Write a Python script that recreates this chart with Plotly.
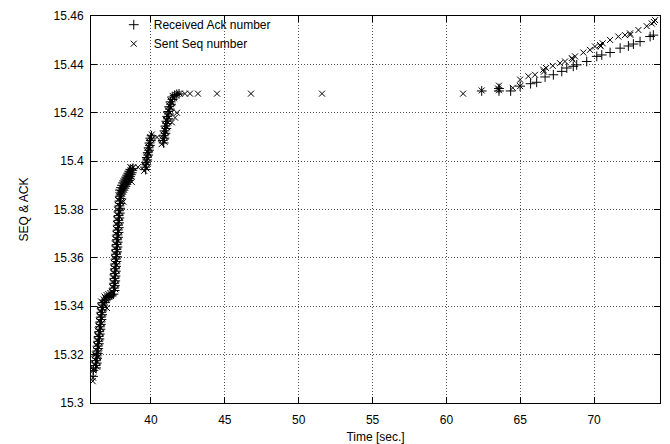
import plotly.graph_objects as go

# ---- Sent Seq number (x markers): time [s], sequence value ----
sent_t = [
    # slow-start burst, lower section
    36.06, 36.08, 36.10, 36.11, 36.35, 36.15, 36.38, 36.18, 36.42, 36.22, 36.45, 36.26, 36.49,
    36.29, 36.52, 36.33, 36.56, 36.36, 36.59, 36.40, 36.63, 36.44, 36.67, 36.47, 36.70, 36.51,
    36.74, 36.54, 36.77, 36.58, 36.81, 36.62, 36.41, 37.02,
    # short plateau
    36.80, 36.92, 37.05, 37.18, 37.30, 37.42, 36.86, 37.00, 37.12, 37.25, 37.38,
    # second steep section
    37.36, 37.59, 37.38, 37.61, 37.40, 37.63, 37.42, 37.65, 37.44, 37.67, 37.46, 37.69, 37.48,
    37.71, 37.50, 37.73, 37.52, 37.75, 37.54, 37.77, 37.56, 37.79, 37.58, 37.81, 37.60, 37.83,
    37.62, 37.85, 37.64, 37.87, 37.66, 37.89, 37.69, 37.92, 37.71, 37.94, 37.74, 37.97, 37.77,
    38.00, 37.80,
    # bend towards 39 s
    37.88, 37.94, 38.00, 38.07, 38.14, 38.21, 38.28, 38.35, 38.42, 38.49, 38.56, 38.62, 38.68,
    37.97, 38.04, 38.11, 38.18, 38.25, 38.32, 38.39, 38.46, 38.53, 38.60, 38.67,
    38.60, 38.80, 39.12, 38.70, 38.13,
    # burst around 40 s
    39.54, 39.69, 39.59, 39.74, 39.65, 39.80, 39.71, 39.86, 39.77, 39.92, 39.83, 39.98, 39.89,
    40.04, 39.95, 40.06, 40.41,
    # burst around 41 s
    40.72, 40.92, 40.78, 40.98, 40.84, 41.04, 40.90, 41.10, 40.96, 41.16, 41.02, 41.22, 41.08,
    41.28, 41.15, 41.35, 41.23, 41.44, 41.33, 41.56, 41.46, 41.65, 41.80, 41.95,
    41.76, 41.63, 41.42,
    # stalled period (retransmissions)
    42.30, 42.64, 43.18, 44.47, 46.77, 51.58, 61.13,
    # recovery
    62.39, 63.50, 63.56, 63.56, 64.49, 64.99, 64.99,
    65.55, 66.00, 66.56, 66.60, 66.75, 67.20, 67.69, 68.03, 68.49, 68.55, 68.71, 69.27, 69.72,
    70.06, 70.40, 70.45, 70.58, 71.08, 71.64, 72.09, 72.43, 72.45, 73.00, 73.56, 73.90, 74.05,
    74.13,
]
sent_v = [
    15.3090, 15.3105, 15.3135, 15.3140, 15.3150, 15.3160, 15.3170, 15.3180, 15.3190, 15.3200,
    15.3210, 15.3220, 15.3230, 15.3240, 15.3250, 15.3260, 15.3270, 15.3280, 15.3290, 15.3300,
    15.3310, 15.3320, 15.3330, 15.3340, 15.3350, 15.3360, 15.3370, 15.3380, 15.3390, 15.3400,
    15.3410, 15.3420, 15.3197, 15.3393,
    15.3428, 15.3432, 15.3438, 15.3442, 15.3448, 15.3452, 15.3440, 15.3446, 15.3450, 15.3455,
    15.3460,
    15.3460, 15.3470, 15.3480, 15.3490, 15.3500, 15.3510, 15.3520, 15.3530, 15.3540, 15.3550,
    15.3560, 15.3570, 15.3580, 15.3590, 15.3600, 15.3610, 15.3620, 15.3630, 15.3640, 15.3650,
    15.3660, 15.3670, 15.3680, 15.3690, 15.3700, 15.3710, 15.3720, 15.3730, 15.3740, 15.3750,
    15.3760, 15.3770, 15.3780, 15.3790, 15.3800, 15.3810, 15.3820, 15.3830, 15.3840, 15.3850,
    15.3860,
    15.3870, 15.3880, 15.3890, 15.3898, 15.3906, 15.3914, 15.3922, 15.3930, 15.3938, 15.3946,
    15.3954, 15.3962, 15.3970,
    15.3858, 15.3866, 15.3874, 15.3882, 15.3890, 15.3898, 15.3906, 15.3914, 15.3922, 15.3930,
    15.3938,
    15.3976, 15.3974, 15.3975, 15.3914, 15.3832,
    15.3960, 15.3970, 15.3980, 15.3990, 15.4000, 15.4010, 15.4020, 15.4030, 15.4040, 15.4050,
    15.4060, 15.4070, 15.4080, 15.4090, 15.4100, 15.4110, 15.4098,
    15.4070, 15.4080, 15.4090, 15.4100, 15.4110, 15.4120, 15.4130, 15.4140, 15.4150, 15.4160,
    15.4170, 15.4180, 15.4190, 15.4200, 15.4210, 15.4220, 15.4230, 15.4240, 15.4250, 15.4260,
    15.4270, 15.4275, 15.4278, 15.4279,
    15.4200, 15.4180, 15.4160,
    15.4279, 15.4279, 15.4279, 15.4279, 15.4279, 15.4279, 15.4279,
    15.4292, 15.4300, 15.4312, 15.4293, 15.4303, 15.4310, 15.4337,
    15.4351, 15.4357, 15.4378, 15.4370, 15.4385, 15.4394, 15.4405, 15.4412, 15.4426, 15.4420,
    15.4433, 15.4449, 15.4460, 15.4474, 15.4480, 15.4475, 15.4487, 15.4501, 15.4515, 15.4521,
    15.4528, 15.4522, 15.4542, 15.4558, 15.4569, 15.4575, 15.4583,
]

# ---- Received Ack number (+ markers): time [s], acknowledged value ----
ack_t = [
    36.08, 36.10,
    36.29, 36.25, 36.33, 36.28, 36.36, 36.32, 36.40, 36.36, 36.43, 36.39, 36.47, 36.43, 36.51,
    36.46, 36.54, 36.50, 36.58, 36.54, 36.61, 36.57, 36.65, 36.61, 36.69, 36.64, 36.72, 36.68,
    36.76, 36.72,
    36.85, 36.98, 37.10, 37.22, 37.35, 37.46, 36.89,
    37.54, 37.49, 37.56, 37.51, 37.58, 37.53, 37.60, 37.55, 37.62, 37.57, 37.64, 37.59, 37.67,
    37.62, 37.69, 37.64, 37.71, 37.66, 37.73, 37.68, 37.75, 37.70, 37.77, 37.73, 37.80, 37.75,
    37.82, 37.77, 37.84, 37.79, 37.86, 37.81, 37.89, 37.84, 37.91, 37.86, 37.93, 37.88, 37.95,
    37.90,
    37.95, 38.02, 38.09, 38.16, 38.23, 38.30, 38.37, 38.44, 38.51, 38.58, 38.64, 38.70, 38.74,
    38.78,
    37.90, 37.97, 38.04, 38.11, 38.18, 38.25, 38.32, 38.39, 38.46, 38.53, 38.60,
    39.64, 39.60, 39.69, 39.66, 39.75, 39.72, 39.81, 39.78, 39.87, 39.84, 39.93, 39.90, 39.99,
    39.96, 40.04,
    40.86, 40.80, 40.92, 40.86, 40.98, 40.92, 41.04, 40.98, 41.10, 41.04, 41.16, 41.10, 41.22,
    41.17, 41.28, 41.24, 41.36, 41.33, 41.46, 41.44, 41.60, 41.75, 41.90,
    62.39, 63.56, 63.56, 64.35, 64.99, 65.70,
    66.11, 66.68, 67.24, 67.81, 68.15, 68.59, 68.82, 69.50, 70.18, 70.52, 71.08, 71.76, 72.32,
    72.66, 73.11, 73.79, 74.01,
]
ack_v = [
    15.3110, 15.3135,
    15.3145, 15.3155, 15.3165, 15.3175, 15.3185, 15.3195, 15.3205, 15.3215, 15.3225, 15.3235,
    15.3245, 15.3255, 15.3265, 15.3275, 15.3285, 15.3295, 15.3305, 15.3315, 15.3325, 15.3335,
    15.3345, 15.3355, 15.3365, 15.3375, 15.3385, 15.3395, 15.3405, 15.3415,
    15.3425, 15.3430, 15.3436, 15.3440, 15.3446, 15.3450, 15.3415,
    15.3465, 15.3475, 15.3485, 15.3495, 15.3505, 15.3515, 15.3525, 15.3535, 15.3545, 15.3555,
    15.3565, 15.3575, 15.3585, 15.3595, 15.3605, 15.3615, 15.3625, 15.3635, 15.3645, 15.3655,
    15.3665, 15.3675, 15.3685, 15.3695, 15.3705, 15.3715, 15.3725, 15.3735, 15.3745, 15.3755,
    15.3765, 15.3775, 15.3785, 15.3795, 15.3805, 15.3815, 15.3825, 15.3835, 15.3845, 15.3855,
    15.3864, 15.3872, 15.3880, 15.3888, 15.3896, 15.3904, 15.3912, 15.3920, 15.3928, 15.3936,
    15.3944, 15.3952, 15.3962, 15.3970,
    15.3880, 15.3890, 15.3900, 15.3910, 15.3918, 15.3926, 15.3934, 15.3942, 15.3950, 15.3958,
    15.3966,
    15.3965, 15.3975, 15.3985, 15.3995, 15.4005, 15.4015, 15.4025, 15.4035, 15.4045, 15.4055,
    15.4065, 15.4075, 15.4085, 15.4095, 15.4105,
    15.4075, 15.4085, 15.4095, 15.4105, 15.4115, 15.4125, 15.4135, 15.4145, 15.4155, 15.4165,
    15.4175, 15.4185, 15.4195, 15.4205, 15.4215, 15.4225, 15.4235, 15.4245, 15.4255, 15.4265,
    15.4272, 15.4276, 15.4278,
    15.4290, 15.4290, 15.4300, 15.4290, 15.4310, 15.4320,
    15.4326, 15.4348, 15.4357, 15.4371, 15.4385, 15.4392, 15.4398, 15.4412, 15.4433, 15.4439,
    15.4449, 15.4467, 15.4476, 15.4484, 15.4494, 15.4515, 15.4521,
]

x_ticks = [40, 45, 50, 55, 60, 65, 70]
y_ticks = [15.30, 15.32, 15.34, 15.36, 15.38, 15.40, 15.42, 15.44, 15.46]
y_tick_labels = ["15.3", "15.32", "15.34", "15.36", "15.38", "15.4", "15.42", "15.44", "15.46"]

FONT = "Liberation Sans, Arial, Helvetica, sans-serif"

fig = go.Figure()
fig.add_trace(go.Scatter(
    x=ack_t, y=ack_v, mode="markers", name="Received Ack number",
    marker=dict(symbol="cross-thin", size=7, color="black",
                line=dict(color="black", width=1)),
))
fig.add_trace(go.Scatter(
    x=sent_t, y=sent_v, mode="markers", name="Sent Seq number",
    marker=dict(symbol="x-thin", size=6, color="black",
                line=dict(color="black", width=1)),
))

axis_common = dict(
    showline=True, linecolor="black", linewidth=1, mirror="allticks",
    ticks="inside", ticklen=6, tickcolor="black", tickwidth=1,
    showgrid=True, gridcolor="#555555", gridwidth=1, griddash="1px,2px",
    zeroline=False, automargin=False,
    tickfont=dict(family=FONT, size=12, color="black"),
)

fig.update_layout(
    width=670, height=444,
    margin=dict(l=91, r=10, t=12, b=41),
    paper_bgcolor="white", plot_bgcolor="white",
    font=dict(family=FONT, size=12, color="black"),
    showlegend=True,
    legend=dict(x=0.040, y=1.015, xanchor="left", yanchor="top",
                bgcolor="rgba(0,0,0,0)", borderwidth=0,
                font=dict(family=FONT, size=12, color="black"),
                itemwidth=30, tracegroupgap=0),
    xaxis=dict(range=[35.94, 74.46], tickvals=x_ticks, ticklabelstandoff=6,
               title=dict(text="Time [sec.]", standoff=6,
                          font=dict(family=FONT, size=12, color="black")),
               **axis_common),
    yaxis=dict(range=[15.30, 15.46], tickvals=y_ticks, ticktext=y_tick_labels,
               ticklabelstandoff=4,
               title=dict(text="SEQ &amp; ACK", standoff=22,
                          font=dict(family=FONT, size=12, color="black")),
               **axis_common),
)

fig.write_html("out.html")
